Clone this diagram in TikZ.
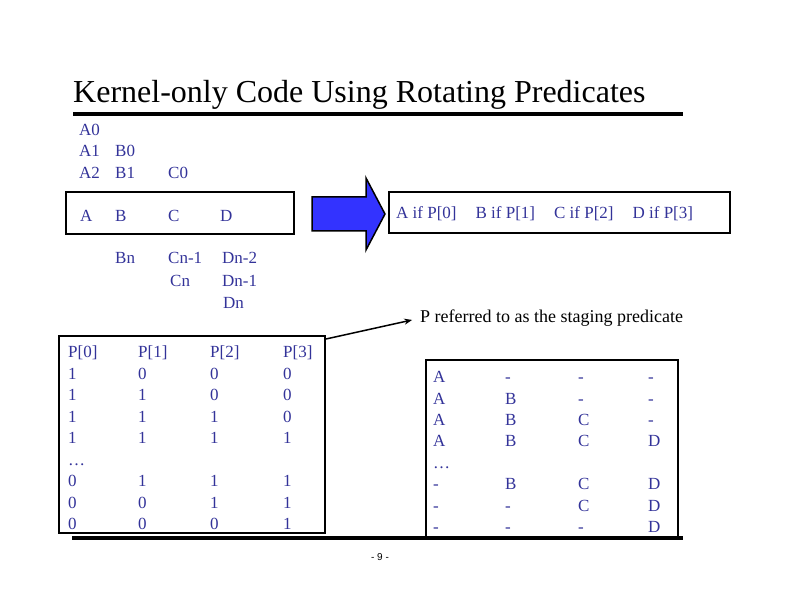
\documentclass[tikz,border=0pt]{standalone}
\usepackage{fontspec}
\setmainfont{Liberation Serif}
\newfontfamily\pnfont{Liberation Sans}
\usetikzlibrary{calc,arrows.meta}
\definecolor{txtblue}{RGB}{51,51,153}
\definecolor{arrblue}{RGB}{51,51,255}
\begin{document}
\begin{tikzpicture}[x=1pt,y=-1pt,
  bt/.style={anchor=base west, inner sep=0pt, text=txtblue, font=\fontsize{17}{20}\selectfont},
  box/.style={draw=black, line width=2pt, inner sep=0pt, fill=none},
  rulestyle/.style={line width=4.5pt, line cap=butt}]
\useasboundingbox (0,0) rectangle (792,612);

% title and rules
\node[anchor=base west, inner sep=0pt, font=\fontsize{32}{38}\selectfont] (title) at (73,103) {Kernel-only Code Using Rotating Predicates};
\coordinate (r1a) at (73,114); \coordinate (r1b) at (683,114);
\draw[rulestyle] (r1a) -- (r1b);
\coordinate (r2a) at (72,538); \coordinate (r2b) at (683,538);
\draw[rulestyle, line width=4pt] (r2a) -- (r2b);

% top-left schedule
\node[bt] (a0) at (79,135.6) {A0};
\node[bt] (a1) at (79,156.6) {A1};
\node[bt] (b0) at (115,156.6) {B0};
\node[bt] (a2) at (79,178.6) {A2};
\node[bt] (b1) at (115,178.6) {B1};
\node[bt] (c0) at (168,178.6) {C0};
\node[box, minimum width=228pt, minimum height=42pt] (kbox) at (180,213) {};
\node[bt] (ka) at (80,221.6) {A};
\node[bt] (kb) at (115,221.6) {B};
\node[bt] (kc) at (168,221.6) {C};
\node[bt] (kd) at (220,221.6) {D};
\node[bt] (bn) at (115,263.6) {Bn};
\node[bt] (cn1) at (168,263.6) {Cn-1};
\node[bt] (dn2) at (222,263.6) {Dn-2};
\node[bt] (cn) at (170,286.6) {Cn};
\node[bt] (dn1) at (222,286.6) {Dn-1};
\node[bt] (dn) at (223,308.6) {Dn};

% block arrow
\draw[fill=arrblue, draw=black, line width=1.5pt, line join=miter]
  (312,197) -- (366,197) -- (366,178) -- (385,214) -- (366,250) -- (366,231) -- (312,231) -- cycle;

% predicated kernel
\node[box, minimum width=341pt, minimum height=41pt] (pbox) at (559.5,212.5) {};
\node[bt] (pk) at (396,218.6) {A if P[0]\hspace{19pt}B if P[1]\hspace{19pt}C if P[2]\hspace{19pt}D if P[3]};

% staging predicate label
\node[anchor=base west, inner sep=0pt, font=\fontsize{18}{21}\selectfont] (stage) at (420,322.6) {P referred to as the staging predicate};

% left table
\node[box, minimum width=266pt, minimum height=197pt] (ltab) at (192,434.5) {};
\foreach \y/\p/\q/\r/\s [count=\i] in {357.6/P[0]/P[1]/P[2]/P[3], 379.1/1/0/0/0, 400.6/1/1/0/0, 422.1/1/1/1/0, 443.6/1/1/1/1, 486.6/0/1/1/1, 508.1/0/0/1/1, 529.6/0/0/0/1}{
  \node[bt] (lp\i) at (68,\y) {\p};
  \node[bt] (lq\i) at (138,\y) {\q};
  \node[bt] (lr\i) at (210,\y) {\r};
  \node[bt] (ls\i) at (283,\y) {\s};
}
\node[bt] (ldots) at (68,465.1) {\dots};

% right table
\node[box, minimum width=252pt, minimum height=178pt] (rtab) at (552,449) {};
\foreach \y/\p/\q/\r/\s [count=\i] in {382.6/A/-/-/-, 404/A/B/-/-, 425.4/A/B/C/-, 446.8/A/B/C/D, 489.6/-/B/C/D, 511/-/-/C/D, 532.4/-/-/-/D}{
  \node[bt] (rp\i) at (433,\y) {\p};
  \node[bt] (rq\i) at (505,\y) {\q};
  \node[bt] (rr\i) at (578,\y) {\r};
  \node[bt] (rs\i) at (648,\y) {\s};
}
\node[bt] (rdots) at (433,468.2) {\dots};

% connector
\draw[line width=1.5pt, -{Stealth[length=8pt,width=6pt]}, shorten >=8pt]
  ($(ltab.north east)+(0,4)$) -- (stage.west);

% page number
\node[inner sep=0pt, font=\pnfont\fontsize{10}{12}\selectfont] (pnum) at (380,557) {- 9 -};
\end{tikzpicture}
\end{document}
